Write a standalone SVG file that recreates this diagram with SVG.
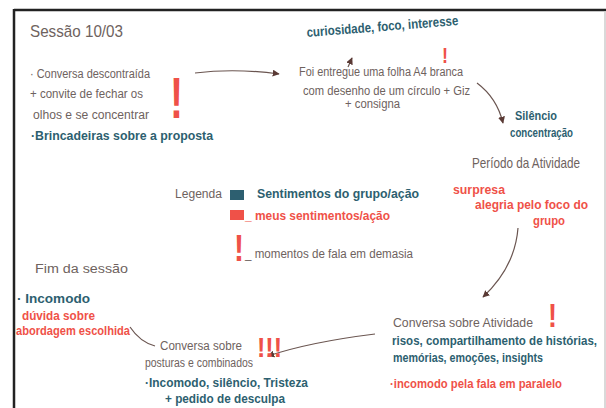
<svg xmlns="http://www.w3.org/2000/svg" width="606" height="408" viewBox="0 0 606 408">
<defs>
<style>
text{font-family:"Liberation Sans","DejaVu Sans",sans-serif}
.g{fill:#6e625e;font-size:12.5px}
.t{fill:#2d5f70;font-size:13.5px;font-weight:bold}
.r{fill:#ef5148;font-size:13.5px;font-weight:bold}
.ex{fill:#ef5148;font-weight:bold}
.c{fill:none;stroke:#6a5550;stroke-width:1.2}
</style>
<marker id="ah" viewBox="0 0 10 10" refX="9" refY="5" markerWidth="7" markerHeight="7" orient="auto" markerUnits="userSpaceOnUse">
<path d="M0,0 L10,5 L0,10 z" fill="#5a3a35"/>
</marker>
</defs>
<rect width="606" height="408" fill="#fff"/>
<g id="frame">
<line x1="14" y1="10" x2="606" y2="10" stroke="#222" stroke-width="2.5"/>
<line x1="14" y1="9" x2="14" y2="408" stroke="#222" stroke-width="2.5"/>
<line x1="605" y1="11" x2="605" y2="408" stroke="#ccc" stroke-width="1.5"/>
</g>
<g id="connectors">
<path class="c" d="M195,73 Q235,68 279,74" marker-end="url(#ah)"/>
<path class="c" d="M348,67 L352,58" marker-end="url(#ah)"/>
<path class="c" d="M477,83 Q497,98 503,123" marker-end="url(#ah)"/>
<path class="c" d="M518,228 Q515,267 483,297" marker-end="url(#ah)"/>
<path class="c" d="M375,334 Q310,342 268,356" marker-end="url(#ah)"/>
<path class="c" d="M130,327 Q140,342 155,346"/>
</g>
<g id="title">
<text class="g" x="30" y="37" style="font-size:17px" textLength="93" lengthAdjust="spacingAndGlyphs">Sessão 10/03</text>
</g>
<g id="inicio">
<text class="g" x="30" y="78" textLength="120" lengthAdjust="spacingAndGlyphs">· Conversa descontraída</text>
<text class="g" x="30" y="98" textLength="113" lengthAdjust="spacingAndGlyphs">+ convite de fechar os</text>
<text class="g" x="33" y="119" textLength="116" lengthAdjust="spacingAndGlyphs">olhos e se concentrar</text>
<text class="t" x="31" y="140" textLength="182" lengthAdjust="spacingAndGlyphs">·Brincadeiras sobre a proposta</text>
<text class="ex" x="170" y="118" style="font-size:58px" textLength="13" lengthAdjust="spacingAndGlyphs">!</text>
</g>
<g id="folha">
<text class="t" x="307" y="37" transform="rotate(-4.5 307 37)" textLength="152" lengthAdjust="spacingAndGlyphs">curiosidade, foco, interesse</text>
<text class="ex" x="442" y="63" style="font-size:22px" textLength="6" lengthAdjust="spacingAndGlyphs">!</text>
<text class="g" x="299" y="76" textLength="164" lengthAdjust="spacingAndGlyphs">Foi entregue uma folha A4 branca</text>
<text class="g" x="303" y="95" textLength="167" lengthAdjust="spacingAndGlyphs">com desenho de um círculo + Giz</text>
<text class="g" x="345" y="108" textLength="55" lengthAdjust="spacingAndGlyphs">+ consigna</text>
</g>
<g id="atividade">
<text class="t" x="515" y="120" textLength="42" lengthAdjust="spacingAndGlyphs">Silêncio</text>
<text class="t" x="510" y="137" textLength="63" lengthAdjust="spacingAndGlyphs">concentração</text>
<text class="g" x="472" y="168" style="font-size:15px" textLength="108" lengthAdjust="spacingAndGlyphs">Período da Atividade</text>
<text class="r" x="453" y="194" textLength="52" lengthAdjust="spacingAndGlyphs">surpresa</text>
<text class="r" x="475" y="209" textLength="113" lengthAdjust="spacingAndGlyphs">alegria pelo foco do</text>
<text class="r" x="533" y="225" textLength="32" lengthAdjust="spacingAndGlyphs">grupo</text>
</g>
<g id="legenda">
<text class="g" x="175" y="198" textLength="47" lengthAdjust="spacingAndGlyphs">Legenda</text>
<rect x="230" y="190" width="14" height="10" fill="#2d5f70"/>
<text class="t" x="257" y="198" textLength="162" lengthAdjust="spacingAndGlyphs">Sentimentos do grupo/ação</text>
<rect x="230" y="210" width="14" height="10" fill="#ef5148"/>
<text class="r" x="245" y="220" textLength="145" lengthAdjust="spacingAndGlyphs">_ meus sentimentos/ação</text>
<text class="ex" x="234" y="261" style="font-size:36px" textLength="10" lengthAdjust="spacingAndGlyphs">!</text>
<text class="g" x="245" y="258" textLength="168" lengthAdjust="spacingAndGlyphs">_ momentos de fala em demasia</text>
</g>
<g id="conversa-atividade">
<text class="g" x="393" y="327" textLength="140" lengthAdjust="spacingAndGlyphs">Conversa sobre Atividade</text>
<text class="ex" x="548" y="327" style="font-size:34px" textLength="9" lengthAdjust="spacingAndGlyphs">!</text>
<text class="t" x="392" y="345" textLength="205" lengthAdjust="spacingAndGlyphs">risos, compartilhamento de histórias,</text>
<text class="t" x="393" y="362" textLength="150" lengthAdjust="spacingAndGlyphs">memórias, emoções, insights</text>
<text class="r" x="390" y="388" textLength="172" lengthAdjust="spacingAndGlyphs">·incomodo pela fala em paralelo</text>
</g>
<g id="conversa-posturas">
<text class="g" x="160" y="350" textLength="82" lengthAdjust="spacingAndGlyphs">Conversa sobre</text>
<text class="g" x="145" y="367" textLength="108" lengthAdjust="spacingAndGlyphs">posturas e combinados</text>
<text class="ex" x="257" y="357" style="font-size:28px" textLength="25" lengthAdjust="spacingAndGlyphs">!!!</text>
<text class="t" x="145" y="387" textLength="163" lengthAdjust="spacingAndGlyphs">·Incomodo, silêncio, Tristeza</text>
<text class="t" x="165" y="403" textLength="120" lengthAdjust="spacingAndGlyphs">+ pedido de desculpa</text>
</g>
<g id="fim">
<text class="g" x="35" y="273" textLength="93" lengthAdjust="spacingAndGlyphs">Fim da sessão</text>
<text class="t" x="17" y="303" textLength="73" lengthAdjust="spacingAndGlyphs">· Incomodo</text>
<text class="r" x="22" y="320" textLength="73" lengthAdjust="spacingAndGlyphs">dúvida sobre</text>
<text class="r" x="16" y="335" textLength="114" lengthAdjust="spacingAndGlyphs">abordagem escolhida</text>
</g>
</svg>
